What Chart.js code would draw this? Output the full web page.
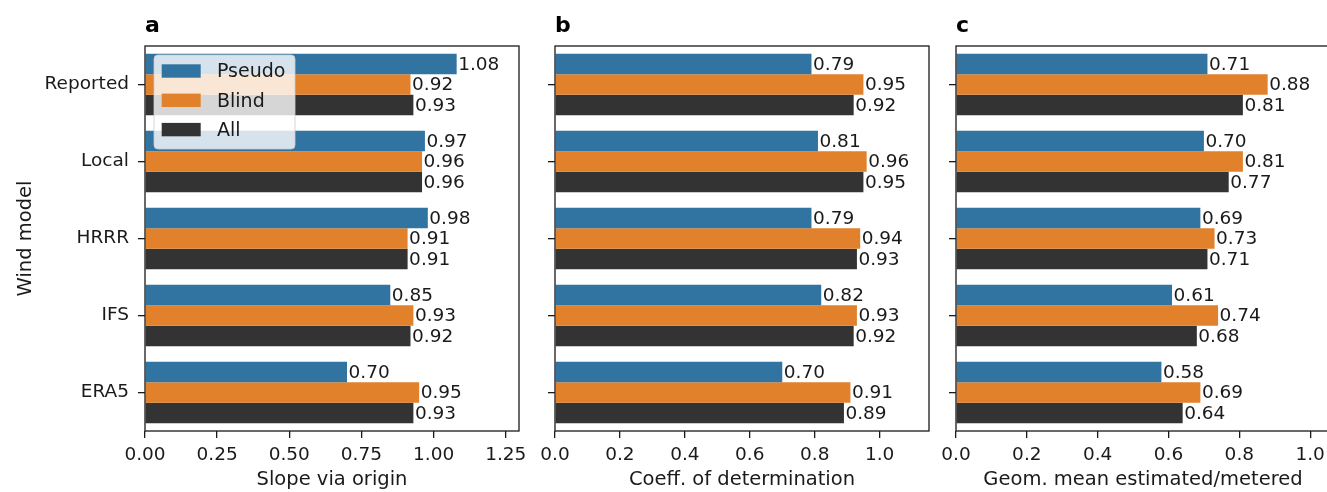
<!DOCTYPE html>
<html>
<head>
<meta charset="utf-8">
<script src="https://cdn.jsdelivr.net/npm/chart.js@4.4.1/dist/chart.umd.min.js"></script>
<style>
html,body{margin:0;padding:0;background:#fff;overflow:hidden;width:1327px;height:492px;position:relative;}
canvas{position:absolute;top:0;}
</style>
</head>
<body>
<canvas id="pa" width="540" height="492" style="left:0px"></canvas>
<canvas id="pb" width="420" height="492" style="left:530px"></canvas>
<canvas id="pc" width="420" height="492" style="left:935px"></canvas>
<script>
// ---- data ----
const categories = ['Reported', 'Local', 'HRRR', 'IFS', 'ERA5'];
const seriesNames = ['Pseudo', 'Blind', 'All'];
const seriesColors = ['#3274a1', '#e1812c', '#333333'];

const slopePseudo = [1.08, 0.97, 0.98, 0.85, 0.70];
const slopeBlind  = [0.92, 0.96, 0.91, 0.93, 0.95];
const slopeAll    = [0.93, 0.96, 0.91, 0.92, 0.93];

const r2Pseudo = [0.79, 0.81, 0.79, 0.82, 0.70];
const r2Blind  = [0.95, 0.96, 0.94, 0.93, 0.91];
const r2All    = [0.92, 0.95, 0.93, 0.92, 0.89];

const geoPseudo = [0.71, 0.70, 0.69, 0.61, 0.58];
const geoBlind  = [0.88, 0.81, 0.73, 0.74, 0.69];
const geoAll    = [0.81, 0.77, 0.71, 0.68, 0.64];

const FONT = "'DejaVu Sans', sans-serif";
const TXT = '#1a1a1a';
const H = 492, AREA_TOP = 46, AREA_BOTTOM = 431;
const TICK_SIZE = 18.5, LABEL_SIZE = 19.5;

const valueLabels = {
  id: 'valueLabels',
  afterDatasetsDraw(chart) {
    const ctx = chart.ctx;
    ctx.save();
    ctx.font = TICK_SIZE + 'px ' + FONT;
    ctx.fillStyle = TXT;
    ctx.textAlign = 'left';
    ctx.textBaseline = 'middle';
    chart.data.datasets.forEach((ds, i) => {
      const meta = chart.getDatasetMeta(i);
      meta.data.forEach((el, j) => {
        ctx.fillText(ds.data[j].toFixed(2), el.x + 1.5, el.y + 1);
      });
    });
    ctx.restore();
  }
};

const frame = {
  id: 'frame',
  afterDraw(chart) {
    const a = chart.chartArea, ctx = chart.ctx;
    ctx.save();
    ctx.strokeStyle = '#1a1a1a';
    ctx.lineWidth = 1.3;
    ctx.strokeRect(a.left, a.top, a.right - a.left, a.bottom - a.top);
    ctx.restore();
    if (chart.options.plugins.boxLegend && chart.options.plugins.boxLegend.show) {
      drawLegend(chart);
    }
  }
};

function roundRect(ctx, x, y, w, h, r) {
  ctx.beginPath();
  ctx.moveTo(x + r, y);
  ctx.lineTo(x + w - r, y);
  ctx.quadraticCurveTo(x + w, y, x + w, y + r);
  ctx.lineTo(x + w, y + h - r);
  ctx.quadraticCurveTo(x + w, y + h, x + w - r, y + h);
  ctx.lineTo(x + r, y + h);
  ctx.quadraticCurveTo(x, y + h, x, y + h - r);
  ctx.lineTo(x, y + r);
  ctx.quadraticCurveTo(x, y, x + r, y);
  ctx.closePath();
}

function drawLegend(chart) {
  const ctx = chart.ctx;
  const a = chart.chartArea;
  const x0 = a.left + 9, y0 = a.top + 9, w = 141, h = 94;
  ctx.save();
  roundRect(ctx, x0, y0, w, h, 4);
  ctx.fillStyle = 'rgba(255,255,255,0.8)';
  ctx.fill();
  ctx.strokeStyle = 'rgba(204,204,204,0.8)';
  ctx.lineWidth = 1;
  ctx.stroke();
  ctx.font = '19px ' + FONT;
  ctx.textAlign = 'left';
  ctx.textBaseline = 'middle';
  chart.data.datasets.forEach((ds, i) => {
    const cy = y0 + 16 + i * 29.3;
    ctx.fillStyle = ds.backgroundColor;
    ctx.fillRect(x0 + 7.7, cy - 6.7, 39, 13.4);
    ctx.fillStyle = TXT;
    ctx.fillText(ds.label, x0 + 63, cy + 1.5);
  });
  ctx.restore();
}

function panel(id, cfg) {
  const ctx = document.getElementById(id);
  const canvasW = ctx.width;
  new Chart(ctx, {
    type: 'bar',
    data: {
      labels: categories,
      datasets: cfg.series.map((s, i) => ({
        label: seriesNames[i],
        data: s,
        backgroundColor: seriesColors[i],
        borderWidth: 0,
        categoryPercentage: 0.8,
        barPercentage: 1.0
      }))
    },
    options: {
      indexAxis: 'y',
      responsive: false,
      animation: false,
      events: [],
      devicePixelRatio: 1,
      layout: { padding: { left: 0, right: canvasW - (cfg.areaRight - cfg.canvasLeft), top: 0, bottom: 0 } },
      plugins: {
        legend: { display: false },
        tooltip: { enabled: false },
        boxLegend: { show: !!cfg.legend },
        title: {
          display: true, text: cfg.letter, align: 'start', fullSize: false,
          color: '#000', font: { family: FONT, size: 22, weight: 'bold' },
          padding: { top: 13, bottom: 6.6 }
        }
      },
      scales: {
        x: {
          type: 'linear', min: 0, max: cfg.max,
          border: { display: false },
          grid: { drawOnChartArea: false, drawTicks: true, tickLength: 7, color: '#1a1a1a', lineWidth: 1.3 },
          ticks: {
            stepSize: cfg.step, includeBounds: false, padding: 6,
            color: TXT, font: { family: FONT, size: TICK_SIZE },
            maxRotation: 0, autoSkip: false,
            callback: (v) => Number(v).toFixed(cfg.dec)
          },
          title: { display: true, text: cfg.xTitle, color: TXT, font: { family: FONT, size: LABEL_SIZE }, padding: { top: 0, bottom: 0 } },
          afterFit: (s) => { s.height = H - AREA_BOTTOM; }
        },
        y: {
          type: 'category', offset: true,
          border: { display: false },
          grid: { offset: false, drawOnChartArea: false, drawTicks: true, tickLength: 7, color: '#1a1a1a', lineWidth: 1.3 },
          ticks: { display: cfg.showY, padding: 9, color: TXT, font: { family: FONT, size: TICK_SIZE } },
          title: { display: cfg.showY, text: 'Wind model', color: TXT, font: { family: FONT, size: LABEL_SIZE }, padding: { top: 14, bottom: 0 } },
          afterFit: (s) => { s.width = cfg.areaLeft - cfg.canvasLeft; }
        }
      }
    },
    plugins: [valueLabels, frame]
  });
}

panel('pa', { canvasLeft: 0, areaLeft: 145, areaRight: 519, series: [slopePseudo, slopeBlind, slopeAll],
  max: 1.296, step: 0.25, dec: 2, xTitle: 'Slope via origin', letter: 'a', showY: true, legend: true });
panel('pb', { canvasLeft: 530, areaLeft: 555, areaRight: 929, series: [r2Pseudo, r2Blind, r2All],
  max: 1.152, step: 0.2, dec: 1, xTitle: 'Coeff. of determination', letter: 'b', showY: false, legend: false });
panel('pc', { canvasLeft: 935, areaLeft: 956, areaRight: 1330, series: [geoPseudo, geoBlind, geoAll],
  max: 1.056, step: 0.2, dec: 1, xTitle: 'Geom. mean estimated/metered', letter: 'c', showY: false, legend: false });
</script>
</body>
</html>
